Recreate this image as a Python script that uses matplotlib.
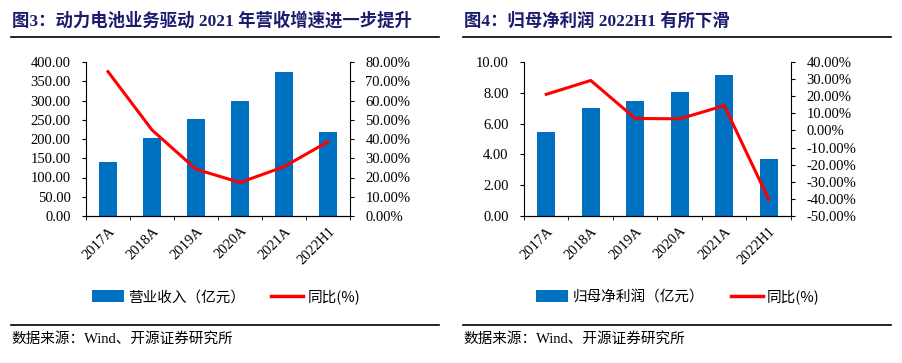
import matplotlib
matplotlib.use("Agg")
import matplotlib.pyplot as plt
from matplotlib.lines import Line2D
from matplotlib.patches import Patch
import numpy as np

# 数据
years = ["2017A", "2018A", "2019A", "2020A", "2021A", "2022H1"]
revenue = [139.5, 203.0, 252.5, 297.5, 374.5, 217.5]          # 营业收入（亿元）
revenue_yoy = [75.0, 44.7, 24.3, 17.4, 25.6, 38.6]            # 同比(%)
profit = [5.43, 7.00, 7.50, 8.03, 9.18, 3.72]                 # 归母净利润（亿元）
profit_yoy = [21.1, 29.2, 7.0, 6.8, 14.5, -40.3]              # 同比(%)

titles = ["图3：动力电池业务驱动 2021 年营收增速进一步提升", "图4：归母净利润 2022H1 有所下滑"]
bar_names = ["营业收入（亿元）", "归母净利润（亿元）"]
line_name = "同比(%)"
source = "数据来源：Wind、开源证券研究所"

SERIF = ["Liberation Serif", "Noto Sans CJK SC"]
CJK = ["Noto Sans CJK SC", "DejaVu Sans"]
BLUE = "#0070C0"
RED = "#FF0000"
NAVY = "#1C1C6E"

fig = plt.figure(figsize=(9.03, 3.63), dpi=100)
W, H = 903, 363


def fx(px):
    return px / W


def fy(py):
    return 1 - py / H


def draw_panel(left_px, right_px, bars, yoy, ylim, yticks, y2lim, y2ticks):
    ax = fig.add_axes([fx(left_px), fy(216), fx(right_px - left_px), (216 - 62) / H])
    x = np.arange(len(years))
    ax.bar(x, bars, width=0.4, color=BLUE, zorder=2)
    ax.set_xlim(-0.5, len(years) - 0.5)
    ax.set_ylim(*ylim)
    ax.set_yticks(yticks)
    ax.set_yticklabels([f"{v:.2f}" for v in yticks], family=SERIF, fontsize=10.5)
    ax.set_xticks(x)
    ax.set_xticklabels(years, family=SERIF, fontsize=10.5, rotation=45,
                       ha="right", va="top", rotation_mode="anchor")
    ax.set_xticks(np.arange(-0.5, len(years)), minor=True)
    ax.tick_params(axis="x", which="major", length=0, pad=6)
    ax.tick_params(axis="x", which="minor", length=3, direction="out")
    ax.tick_params(axis="y", length=3, direction="out", pad=8)
    ax.spines["top"].set_visible(False)
    ax.spines["right"].set_visible(False)

    ax2 = ax.twinx()
    ax2.plot(x, yoy, color=RED, lw=2.2, zorder=3)
    ax2.set_ylim(*y2lim)
    ax2.set_yticks(y2ticks)
    ax2.set_yticklabels([f"{v:.2f}%" for v in y2ticks], family=SERIF, fontsize=10.5)
    ax2.tick_params(axis="y", length=3, direction="out", pad=8)
    ax2.spines["top"].set_visible(False)
    ax2.spines["left"].set_visible(False)
    return ax


draw_panel(86, 350, revenue, revenue_yoy, (0, 400), list(range(0, 401, 50)),
           (0, 80), list(range(0, 81, 10)))
draw_panel(524, 791, profit, profit_yoy, (0, 10), list(range(0, 11, 2)),
           (-50, 40), list(range(-50, 41, 10)))

# 标题、分隔线、图例、数据来源
for i, x0 in enumerate([11, 463]):
    x1 = x0 + 428
    fig.text(fx(x0 + 1), fy(21), titles[i], family=SERIF, fontsize=12.5,
             fontweight="bold", color=NAVY, va="center", ha="left")
    fig.add_artist(Line2D([fx(x0), fx(x1)], [fy(37), fy(37)], color="black", lw=1.2))
    fig.add_artist(Line2D([fx(x0), fx(x1)], [fy(325), fy(325)], color="black", lw=1.2))
    fig.text(fx(x0), fy(339), source, family=SERIF, fontsize=10.5,
             color="black", va="center", ha="left")

    handles = [Patch(facecolor=BLUE, edgecolor="none"),
               Line2D([0], [0], color=RED, lw=2.5)]
    cx = 226 if i == 0 else 678
    fig.legend(handles, [bar_names[i], line_name], loc="center",
               bbox_to_anchor=(fx(cx), fy(297)), ncol=2, frameon=False,
               prop={"family": CJK, "size": 10.5}, handlelength=2.2,
               handleheight=0.9, columnspacing=1.8, handletextpad=0.3)

fig.savefig("out.png", dpi=100)
